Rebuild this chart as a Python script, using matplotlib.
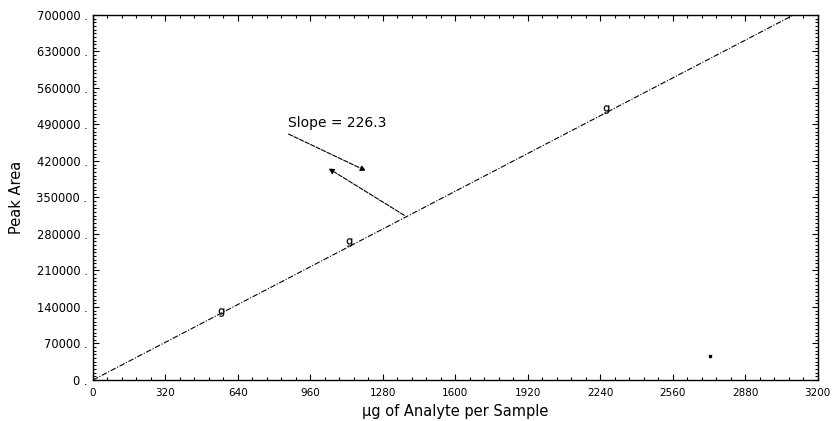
import numpy as np
import matplotlib.pyplot as plt
from matplotlib.ticker import MultipleLocator, FuncFormatter

# calibration data
amount_ug = [565, 1130, 2265]
peak_area = [130000, 265000, 520000]
stray_x = [2725]
stray_y = [46000]
slope = 226.3

x_ticks = [0, 320, 640, 960, 1280, 1600, 1920, 2240, 2560, 2880, 3200]
y_ticks = [0, 70000, 140000, 210000, 280000, 350000, 420000, 490000,
           560000, 630000, 700000]

fig = plt.figure(figsize=(8.34, 4.21), dpi=100)
ax = fig.add_axes([0.1115, 0.0974, 0.869, 0.867])

# fitted line through origin
fit_x = np.array([0, 700000 / slope])
ax.plot(fit_x, slope * fit_x, color='black', lw=0.8,
        linestyle=(0, (5, 1.5, 1, 1.5)))

ax.plot(amount_ug, peak_area, linestyle='none', marker='$\\mathsf{g}$',
        markersize=6, color='black', markeredgewidth=0.2)
ax.plot(stray_x, stray_y, linestyle='none', marker='s', markersize=1.5,
        color='black')

# slope annotation
ax.text(861, 493000, 'Slope = 226.3', fontsize=10, ha='left', va='center')
ax.annotate('', xy=(1216, 399000), xytext=(852, 474000),
            arrowprops=dict(arrowstyle='-|>', lw=0.8, color='black',
                            linestyle=(0, (4, 1.5)), mutation_scale=8))
ax.annotate('', xy=(1030, 408500), xytext=(1385, 313000),
            arrowprops=dict(arrowstyle='-|>', lw=0.8, color='black',
                            linestyle=(0, (4, 1.5)), mutation_scale=8))

ax.set_xlim(0, 3200)
ax.set_ylim(0, 700000)
ax.set_xticks(x_ticks)
ax.set_yticks(y_ticks)
ax.xaxis.set_minor_locator(MultipleLocator(64))
ax.yaxis.set_minor_locator(MultipleLocator(7000))
ax.yaxis.set_major_formatter(FuncFormatter(lambda v, p: f'{int(v)} .'))
ax.xaxis.set_major_formatter(FuncFormatter(lambda v, p: f'{int(v)}'))

ax.tick_params(which='both', direction='in', top=True, right=True,
               width=0.8, colors='black')
ax.tick_params(which='major', length=4)
ax.tick_params(which='minor', length=2)
ax.tick_params(axis='x', pad=6, labelsize=7.5)
ax.tick_params(axis='y', pad=4, labelsize=8.3)
for s in ax.spines.values():
    s.set_linewidth(1.0)
    s.set_color('black')

ax.set_xlabel('µg of Analyte per Sample', fontsize=10.5, labelpad=4)
ax.set_ylabel('Peak Area', fontsize=10.5, labelpad=9)

fig.savefig('out.png', dpi=100)
